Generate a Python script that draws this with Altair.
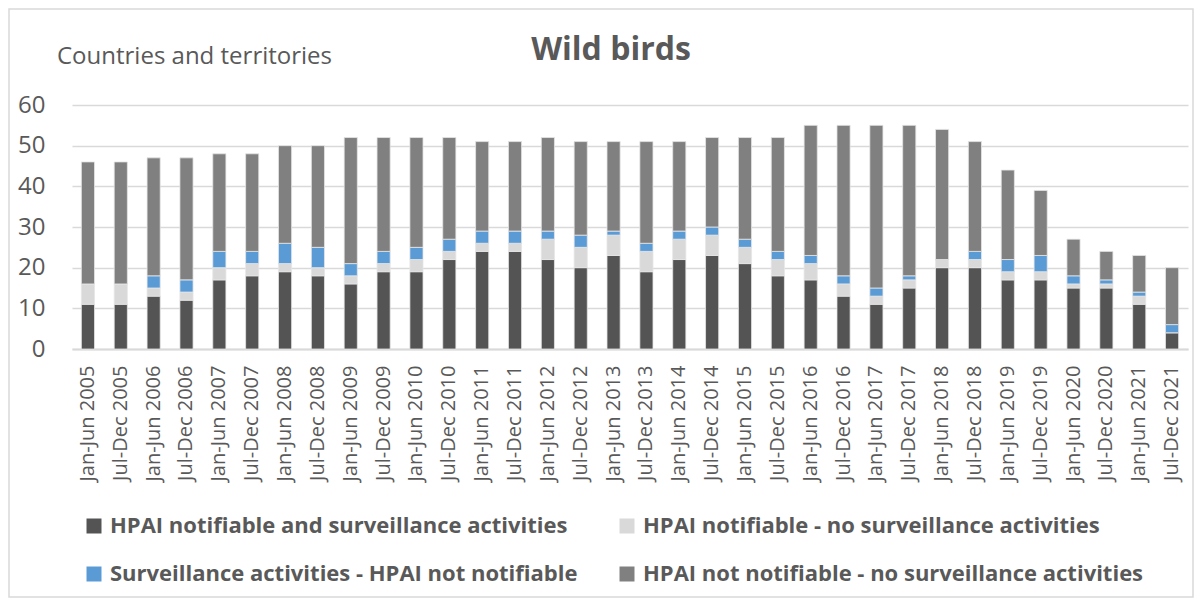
import altair as alt
import pandas as pd

periods = [
    "Jan-Jun 2005", "Jul-Dec 2005", "Jan-Jun 2006", "Jul-Dec 2006",
    "Jan-Jun 2007", "Jul-Dec 2007", "Jan-Jun 2008", "Jul-Dec 2008",
    "Jan-Jun 2009", "Jul-Dec 2009", "Jan-Jun 2010", "Jul-Dec 2010",
    "Jan-Jun 2011", "Jul-Dec 2011", "Jan-Jun 2012", "Jul-Dec 2012",
    "Jan-Jun 2013", "Jul-Dec 2013", "Jan-Jun 2014", "Jul-Dec 2014",
    "Jan-Jun 2015", "Jul-Dec 2015", "Jan-Jun 2016", "Jul-Dec 2016",
    "Jan-Jun 2017", "Jul-Dec 2017", "Jan-Jun 2018", "Jul-Dec 2018",
    "Jan-Jun 2019", "Jul-Dec 2019", "Jan-Jun 2020", "Jul-Dec 2020",
    "Jan-Jun 2021", "Jul-Dec 2021",
]

categories = [
    "HPAI notifiable and surveillance activities",
    "HPAI notifiable - no surveillance activities",
    "Surveillance activities - HPAI not notifiable",
    "HPAI not notifiable - no surveillance activities",
]
colors = ["#545454", "#d9d9d9", "#5b9bd5", "#808080"]

notif_surv = [11, 11, 13, 12, 17, 18, 19, 18, 16, 19, 19, 22, 24, 24, 22, 20, 23,
              19, 22, 23, 21, 18, 17, 13, 11, 15, 20, 20, 17, 17, 15, 15, 11, 4]
notif_nosurv = [5, 5, 2, 2, 3, 3, 2, 2, 2, 2, 3, 2, 2, 2, 5, 5, 5,
                5, 5, 5, 4, 4, 4, 3, 2, 2, 2, 2, 2, 2, 1, 1, 2, 0]
surv_notnotif = [0, 0, 3, 3, 4, 3, 5, 5, 3, 3, 3, 3, 3, 3, 2, 3, 1,
                 2, 2, 2, 2, 2, 2, 2, 2, 1, 0, 2, 3, 4, 2, 1, 1, 2]
neither = [30, 30, 29, 30, 24, 24, 24, 25, 31, 28, 27, 25, 22, 22, 23, 23, 22,
           25, 22, 22, 25, 28, 32, 37, 40, 37, 32, 27, 22, 16, 9, 7, 9, 14]

series = [notif_surv, notif_nosurv, surv_notnotif, neither]
rows = []
for ci, (cat, vals) in enumerate(zip(categories, series)):
    for p, v in zip(periods, vals):
        rows.append({"period": p, "category": cat, "value": v, "idx": ci})
df = pd.DataFrame(rows)

FONT = "Open Sans"
TXT = "#595959"

bars = alt.Chart(df).mark_bar(stroke="#e6e6e6", strokeWidth=0.8).encode(
    x=alt.X("period:N", sort=periods,
            scale=alt.Scale(paddingInner=0.6, paddingOuter=0.285),
            axis=alt.Axis(title=None, labelAngle=-90, labelAlign="right",
                          labelBaseline="middle", labelFontSize=20,
                          labelFont=FONT, labelColor=TXT, labelPadding=16,
                          ticks=False, domainColor="#d9d9d9", domainWidth=2,
                          grid=False)),
    y=alt.Y("value:Q", stack="zero",
            scale=alt.Scale(domain=[0, 60], nice=False),
            axis=alt.Axis(title=None, values=[0, 10, 20, 30, 40, 50, 60],
                          labelFontSize=24, labelFont=FONT, labelColor=TXT,
                          labelPadding=27, ticks=False, domain=False,
                          gridColor="#d9d9d9", gridWidth=1.6)),
    color=alt.Color("category:N", sort=categories,
                    scale=alt.Scale(domain=categories, range=colors),
                    legend=alt.Legend(title=None, orient="none",
                                      direction="horizontal",
                                      legendX=11, legendY=410, columns=2,
                                      symbolType="square", symbolSize=225,
                                      symbolStrokeWidth=0, labelFontSize=22,
                                      labelFont=FONT, labelFontWeight="bold",
                                      labelColor=TXT, labelLimit=800,
                                      labelOffset=5, rowPadding=26,
                                      columnPadding=38)),
    order=alt.Order("idx:Q", sort="ascending"),
)

title_df = pd.DataFrame({"t": ["Wild birds"]})
title = alt.Chart(title_df).mark_text(
    font=FONT, fontSize=32, fontWeight="bold", color=TXT,
    align="center", baseline="middle"
).encode(text="t:N", x=alt.value(539), y=alt.value(-55))

ylab_df = pd.DataFrame({"t": ["Countries and territories"]})
ylab = alt.Chart(ylab_df).mark_text(
    font=FONT, fontSize=24, color=TXT, align="left", baseline="middle"
).encode(text="t:N", x=alt.value(-15), y=alt.value(-48))

border = alt.Chart(title_df).mark_rect(
    fill=None, stroke="#d9d9d9", strokeWidth=1.5
).encode(x=alt.value(-63), x2=alt.value(1121), y=alt.value(-96), y2=alt.value(492))

chart = alt.layer(border, bars, title, ylab).properties(
    width=1116, height=244,
    autosize=alt.AutoSizeParams(type="none"),
    padding={"left": 64, "top": 97, "right": 6, "bottom": 249},
).configure_view(stroke=None)

chart.save("out.html", embed_options={"renderer": "svg", "actions": False})
